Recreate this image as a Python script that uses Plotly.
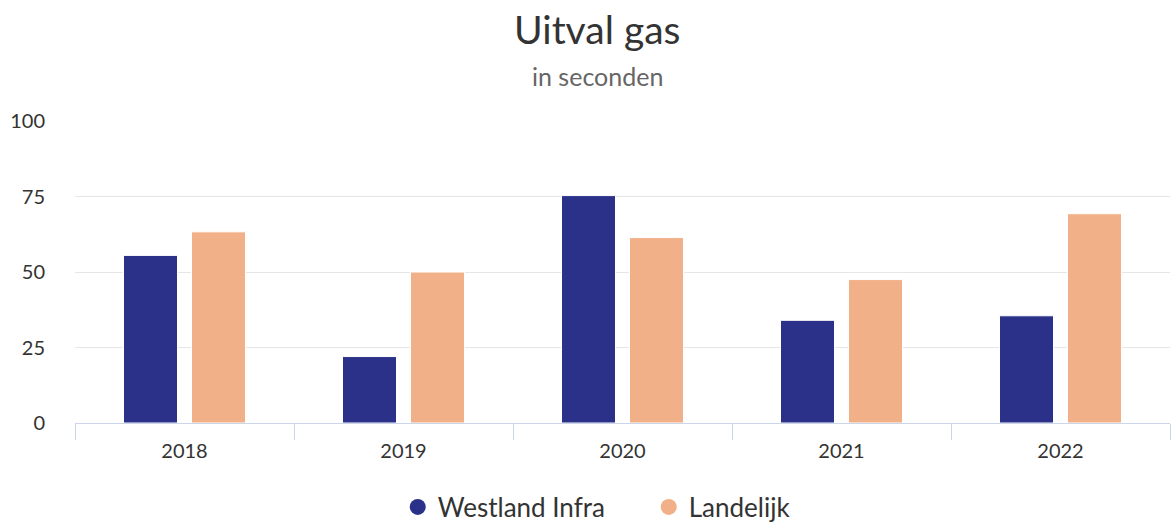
import plotly.graph_objects as go

years = ["2018", "2019", "2020", "2021", "2022"]
westland = [55.5, 22, 75.3, 34, 35.5]
landelijk = [63.3, 50, 61.4, 47.5, 69.3]
series_names = ["Westland Infra", "Landelijk"]
colors = ["#2b3189", "#f2b088"]
y_ticks = [0, 25, 50, 75, 100]

FONT = "Lato"
W, H = 1171, 524
L, R, T, B = 75, 1, 121, 101
PH = H - T - B
PW = W - L - R


def py(pix):
    return (H - B - pix) / PH


def px(pix):
    return (pix - L) / PW


fig = go.Figure()
for name, vals, col in zip(series_names, [westland, landelijk], colors):
    fig.add_trace(go.Bar(x=years, y=vals, name=name,
                         marker=dict(color=col, line=dict(color="white", width=1)),
                         showlegend=False))
for name, col in zip(series_names, colors):
    fig.add_trace(go.Scatter(x=[None], y=[None], mode="markers", name=name,
                             marker=dict(color=col, size=24, symbol="circle")))

fig.update_layout(
    width=W, height=H,
    margin=dict(l=L, r=R, t=T, b=B, autoexpand=False),
    paper_bgcolor="white", plot_bgcolor="white",
    barmode="group", bargap=0.379, bargroupgap=0.206,
    font=dict(family=FONT, color="#333333"),
    showlegend=True,
    legend=dict(orientation="h", xref="container", yref="container", x=0.554, xanchor="center",
                y=1 - 507 / H, yanchor="middle", font=dict(size=26, color="#333333"),
                entrywidth=206, entrywidthmode="pixels"),
    annotations=[
        dict(text="Uitval gas", xref="paper", yref="paper", x=px(597), y=py(29),
             xanchor="center", yanchor="middle", showarrow=False,
             font=dict(size=39, color="#333333", family=FONT)),
        dict(text="in seconden", xref="paper", yref="paper", x=px(597), y=py(76),
             xanchor="center", yanchor="middle", showarrow=False,
             font=dict(size=25, color="#666666", family=FONT)),
    ],
)
fig.update_xaxes(type="category", showline=True, linecolor="#ccd6eb", linewidth=1,
                 ticks="outside", tickson="boundaries", ticklen=16, tickcolor="#ccd6eb",
                 ticklabelstandoff=10, automargin=False,
                 tickfont=dict(size=20, color="#333333"), showgrid=False)
fig.update_yaxes(range=[0, 100], tickvals=y_ticks, showgrid=True, gridcolor="#e6e6e6",
                 zeroline=False, showline=False, ticklabelstandoff=29, automargin=False,
                 tickfont=dict(size=20, color="#333333"))

fig.write_html("out.html", config={"displayModeBar": False},
               post_script="document.body.style.margin='0';document.body.style.overflow='hidden';")
